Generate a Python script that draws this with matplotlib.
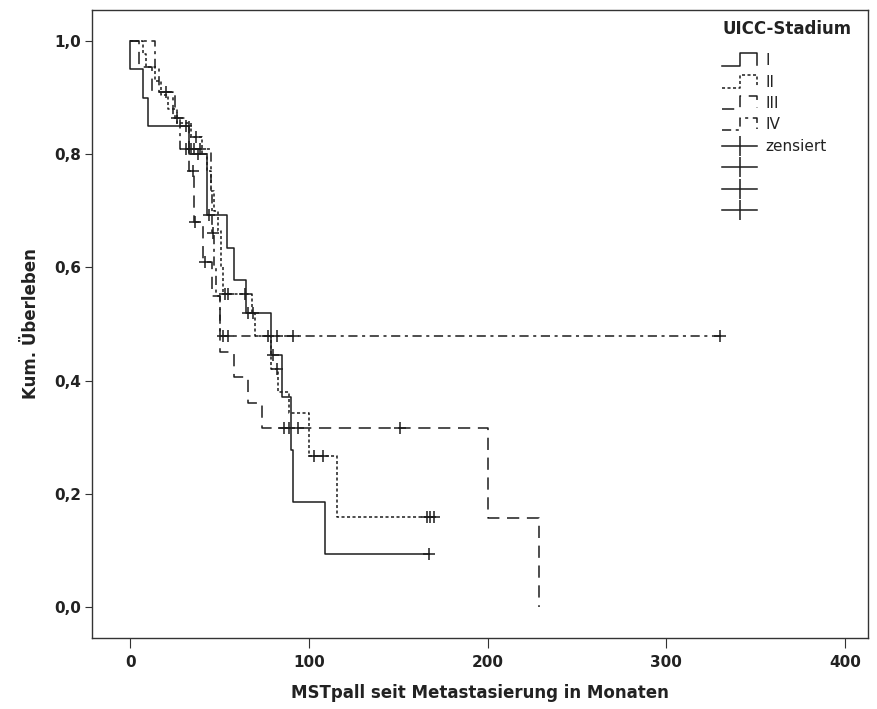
import matplotlib
matplotlib.use("Agg")
import matplotlib.pyplot as plt
import numpy as np
from matplotlib.legend_handler import HandlerBase
from matplotlib.lines import Line2D
from matplotlib.ticker import FuncFormatter

# Kaplan-Meier steps per UICC stage: event times (months) and survival after each event
i_times = [0, 7, 10, 33, 43, 54, 58, 65, 79, 85, 90, 91, 109]
i_surv = [0.95, 0.90, 0.85, 0.80, 0.693, 0.634, 0.578, 0.519, 0.445, 0.371, 0.278, 0.185, 0.094]
i_cens = [31, 38, 44, 66, 69, 80, 167]

ii_times = [7, 9, 14, 17, 21, 26, 34, 40, 43, 45, 47, 49, 51, 52, 68, 70, 79, 83, 89, 100, 116]
ii_surv = [0.977, 0.955, 0.93, 0.905, 0.88, 0.855, 0.83, 0.80, 0.77, 0.735, 0.70, 0.665,
           0.60, 0.553, 0.52, 0.478, 0.42, 0.38, 0.343, 0.267, 0.159]
ii_cens = [37, 53, 55, 64, 82, 103, 108, 166, 168, 170]

iii_times = [5, 12, 25, 33, 36, 41, 46, 50, 58, 66, 74, 200, 229]
iii_surv = [0.955, 0.91, 0.864, 0.77, 0.68, 0.61, 0.55, 0.45, 0.406, 0.36, 0.316, 0.158, 0.0]
iii_cens = [35, 36.5, 42, 86, 89, 94, 151]

iv_times = [14, 16, 24, 28, 45, 46, 47, 48, 50]
iv_surv = [0.955, 0.91, 0.864, 0.81, 0.73, 0.66, 0.60, 0.55, 0.478]
iv_cens = [20, 26, 31, 34, 36, 39, 46.5, 52, 55, 77, 82, 91, 330]

stages = ["I", "II", "III", "IV"]
styles = ["-", (0, (2, 1.6)), (0, (8, 5)), (0, (6, 3, 2, 3))]

INK = "#1c1c1c"


def surv_at(times, surv, t):
    idx = np.searchsorted(times, t, side="right")
    return 1.0 if idx == 0 else surv[idx - 1]


def plot_group(ax, times, surv, cens, ls):
    end = max(times[-1], max(cens))
    t = np.r_[0, times, end]
    s = np.r_[1.0, surv, surv[-1]]
    ax.step(t, s, where="post", color=INK, linewidth=1.1, linestyle=ls)
    cy = [surv_at(times, surv, c) for c in cens]
    ax.plot(cens, cy, linestyle="none", marker="+", markersize=9,
            markeredgewidth=1.1, color=INK)


class StepHandler(HandlerBase):
    """Draws a small KM-style step as the legend glyph."""

    def __init__(self, ls):
        super().__init__()
        self.ls = ls

    def create_artists(self, legend, orig_handle, xdescent, ydescent,
                       width, height, fontsize, trans):
        x0 = -xdescent
        y0 = -ydescent - 0.15 * height
        h = 1.3 * height
        xs = [x0, x0 + 0.5 * width, x0 + 0.5 * width, x0 + width, x0 + width]
        ys = [y0, y0, y0 + h, y0 + h, y0 + 0.1 * h]
        line = Line2D(xs, ys, color=INK, linewidth=1.1, linestyle=self.ls)
        line.set_transform(trans)
        return [line]


fig = plt.figure(figsize=(8.77, 7.09), dpi=100)
ax = fig.add_axes([0.105, 0.100, 0.885, 0.886])

groups = [(i_times, i_surv, i_cens), (ii_times, ii_surv, ii_cens),
          (iii_times, iii_surv, iii_cens), (iv_times, iv_surv, iv_cens)]
for (t, s, c), ls in zip(groups, styles):
    plot_group(ax, t, s, c, ls)

ax.set_xlim(-21.3, 413)
ax.set_ylim(-0.055, 1.055)
ax.set_xticks([0, 100, 200, 300, 400])
ax.set_yticks([0.0, 0.2, 0.4, 0.6, 0.8, 1.0])
ax.yaxis.set_major_formatter(FuncFormatter(lambda v, p: f"{v:.1f}".replace(".", ",")))

for sp in ax.spines.values():
    sp.set_color("#333333")
    sp.set_linewidth(1.0)
ax.tick_params(axis="both", direction="out", color="#333333", labelsize=11,
               labelcolor="#222222")
ax.tick_params(axis="x", length=7, pad=5)
ax.tick_params(axis="y", length=5, pad=3)
for lab in ax.get_xticklabels() + ax.get_yticklabels():
    lab.set_fontweight("bold")

ax.set_xlabel("MSTpall seit Metastasierung in Monaten", fontsize=12,
              fontweight="bold", color="#222222", labelpad=10)
ax.set_ylabel("Kum. Überleben", fontsize=12, fontweight="bold",
              color="#222222", labelpad=10)

# legend: step glyphs for the stages, plus-lines for censored cases
handles = [Line2D([], [], color=INK) for _ in styles]
cens_handles = [Line2D([], [], color=INK, linewidth=1.1, marker="|",
                       markersize=14, markeredgewidth=1.1) for _ in range(4)]
labels = stages + ["zensiert", "", "", ""]
hmap = {h: StepHandler(ls) for h, ls in zip(handles, styles)}
leg = ax.legend(handles + cens_handles, labels, loc="upper right",
                bbox_to_anchor=(0.996, 1.006),
                frameon=False, title="UICC-Stadium", fontsize=11,
                handlelength=2.3, handleheight=0.6, handletextpad=0.5,
                labelspacing=0.42, numpoints=1, handler_map=hmap,
                alignment="left")
leg.get_title().set_fontweight("bold")
leg.get_title().set_fontsize(12)
leg.get_title().set_color("#222222")
leg._legend_box.sep = 11  # extra room under the title
for txt in leg.get_texts():
    txt.set_color("#222222")

fig.savefig("out.png", dpi=100)
